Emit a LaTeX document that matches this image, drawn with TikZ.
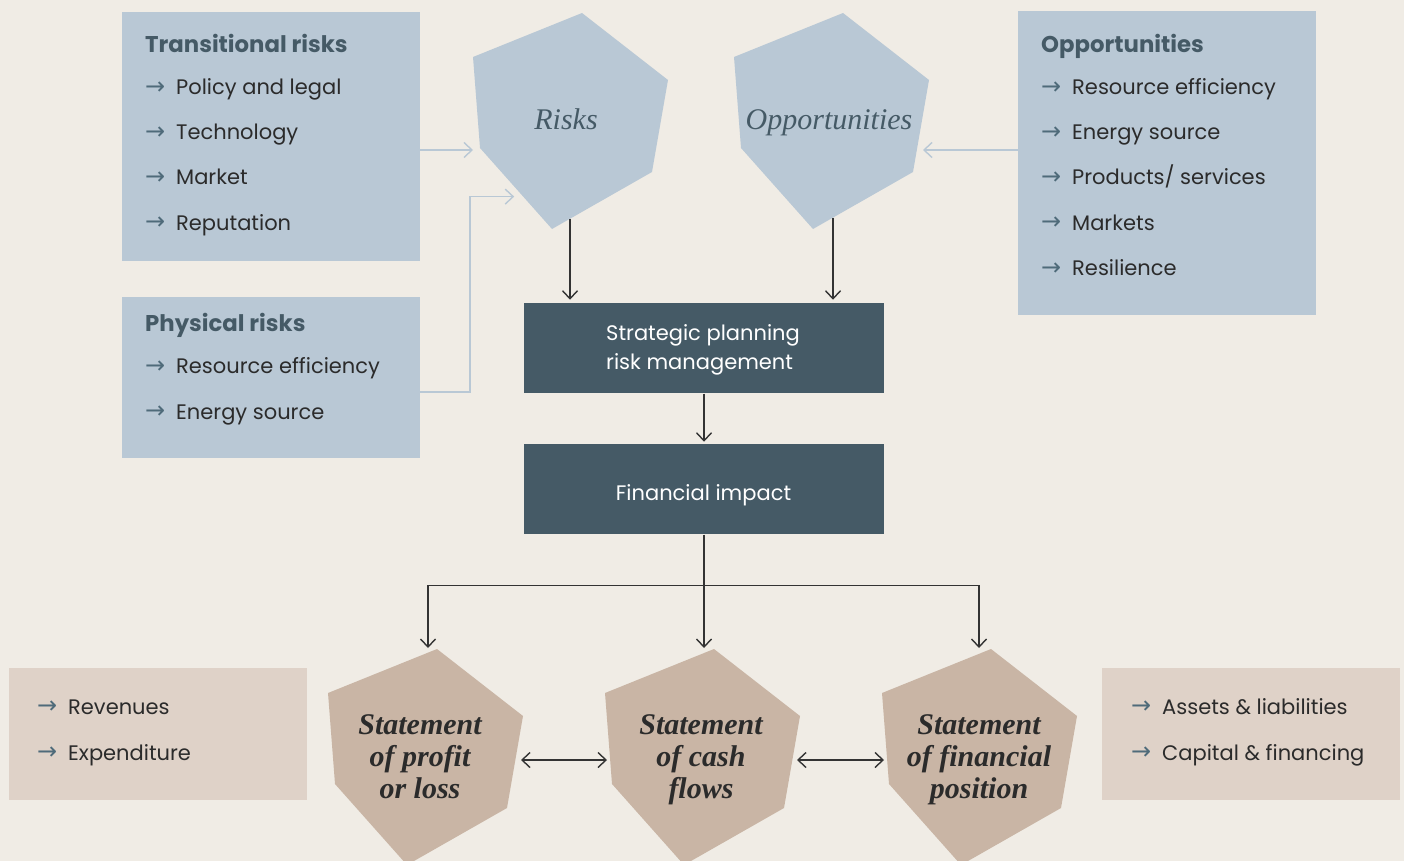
\documentclass[tikz,border=0pt]{standalone}
\usepackage{fontspec}
\setmainfont{Poppins}
\newfontfamily\serifit{Liberation Serif}
\newfontfamily\symf{DejaVu Sans}
\usetikzlibrary{arrows.meta,calc}
\definecolor{bg}{HTML}{F0ECE5}
\definecolor{blueb}{HTML}{B9C8D5}
\definecolor{darkb}{HTML}{455A66}
\definecolor{tanh}{HTML}{C9B5A5}
\definecolor{tanb}{HTML}{DFD2C8}
\definecolor{itemc}{HTML}{2B2B2B}
\definecolor{bulc}{HTML}{4F6B7A}
\definecolor{connc}{HTML}{333333}
\newcommand\bul{\makebox[31pt][l]{\symf\fontsize{24}{24}\selectfont\raisebox{0.5pt}{\textcolor{bulc}{→}}}}
\newcommand\hexshape[4]{%
  \coordinate (#1-t) at (#2,#3);
  \coordinate (#1-r) at ($(#1-t)+(86,67)$);
  \coordinate (#1-lr) at ($(#1-t)+(70,159)$);
  \coordinate (#1-b) at ($(#1-t)+(-30,216)$);
  \coordinate (#1-ll) at ($(#1-t)+(-102,135)$);
  \coordinate (#1-ul) at ($(#1-t)+(-109,44)$);
  \fill[#4] (#1-t) -- (#1-r) -- (#1-lr) -- (#1-b) -- (#1-ll) -- (#1-ul) -- cycle;}
\tikzset{
  bluebox/.style={fill=blueb, anchor=north west, inner sep=0pt, minimum width=298pt},
  tanbox/.style={fill=tanb, anchor=north west, inner sep=0pt, minimum width=298pt, minimum height=132pt},
  darkbox/.style={fill=darkb, inner sep=0pt, minimum width=360pt, minimum height=90.5pt},
  darktext/.style={inner sep=0pt, text=white, font=\fontsize{21}{29}\selectfont, align=left},
  boxtitle/.style={anchor=base west, inner sep=0pt, text=darkb, font=\fontsize{22.8}{26}\selectfont\bfseries},
  item/.style={anchor=base west, inner sep=0pt, text=itemc, font=\fontsize{21}{25}\selectfont},
  hexlabel/.style={anchor=base, inner sep=0pt, text=darkb, font=\serifit\itshape\fontsize{30}{32}\selectfont},
  stmt/.style={anchor=base, inner sep=0pt, text=itemc, align=center, font=\serifit\bfseries\itshape\fontsize{30}{32}\selectfont},
  conn/.style={draw=connc, line width=1.4pt, -{Straight Barb[length=8pt,width=15pt]}},
  dconn/.style={draw=connc, line width=1.4pt, {Straight Barb[length=8pt,width=15pt]}-{Straight Barb[length=8pt,width=15pt]}},
  lconn/.style={draw=blueb, line width=1.4pt, -{Straight Barb[length=8pt,width=15pt]}},
}
\begin{document}
\begin{tikzpicture}[x=1pt,y=-1pt]
\useasboundingbox (0,0) rectangle (1404,861);
\clip (0,0) rectangle (1404,861);
\fill[bg] (0,0) rectangle (1404,861);

% left blue boxes
\node[bluebox, minimum height=249pt] (trans) at (122,12) {};
\node[boxtitle] (transT) at (145,52.5) {Transitional risks};
\node[item] (t1) at (145,95) {\bul Policy and legal};
\node[item] (t2) at (145,140) {\bul Technology};
\node[item] (t3) at (145,185) {\bul Market};
\node[item] (t4) at (145,230) {\bul Reputation};

\node[bluebox, minimum height=161pt] (phys) at (122,297) {};
\node[boxtitle] (physT) at (145,331) {Physical risks};
\node[item] (p1) at (145,373.5) {\bul Resource efficiency};
\node[item] (p2) at (145,419) {\bul Energy source};

% right blue box
\node[bluebox, minimum height=304pt] (opps) at (1018,11) {};
\node[boxtitle] (oppsT) at (1041,52.5) {Opportunities};
\node[item] (o1) at (1041,95) {\bul Resource efficiency};
\node[item] (o2) at (1041,140) {\bul Energy source};
\node[item] (o3) at (1041,185) {\bul Products/ services};
\node[item] (o4) at (1041,230) {\bul Markets};
\node[item] (o5) at (1041,275.5) {\bul Resilience};

% hexagons top
\hexshape{risks}{582}{13}{blueb}
\hexshape{opph}{843}{13}{blueb}
\node[hexlabel] (risksL) at (566,129.5) {Risks};
\node[hexlabel] (opphL) at (829,129.5) {Opportunities};

% dark boxes
\node[darkbox] (strat) at (704,348.2) {};
\node[darktext, anchor=base west] (stratT) at (606,369) {Strategic planning\\risk management};
\node[darkbox] (fin) at (704,489.2) {};
\node[darktext, anchor=base] (finT) at (703.5,500) {Financial impact};

% bottom tan boxes
\node[tanbox] (rev) at (9,668) {};
\node[item] (r1) at (37,714) {\bul Revenues};
\node[item] (r2) at (37,760) {\bul Expenditure};
\node[tanbox] (assets) at (1102,668) {};
\node[item] (a1) at (1131,714) {\bul Assets \& liabilities};
\node[item] (a2) at (1131,760) {\bul Capital \& financing};

% bottom hexagons
\hexshape{prof}{437}{649}{tanh}
\hexshape{cash}{714}{649}{tanh}
\hexshape{fpos}{991}{649}{tanh}
\node[stmt] (profL) at (420,798) {Statement\\of profit\\or loss};
\node[stmt] (cashL) at (701,798) {Statement\\of cash\\flows};
\node[stmt] (fposL) at (979,798) {Statement\\of financial\\position};

% light connectors
\coordinate (tOut) at ($(trans.north east)+(0,138)$);
\coordinate (pOut) at ($(phys.north east)+(0,95)$);
\coordinate (oOut) at ($(opps.north west)+(0,139)$);
\draw[lconn] (tOut) -- (tOut -| risks-ul);
\draw[lconn] (pOut) -- ++(49.5,0) |- ($(risks-ll)!0.6!(risks-b)+(-9,0)$);
\draw[lconn] (oOut) -- ($(oOut -| opph-lr)+(10,0)$);

% dark connectors
\coordinate (rDown) at ($(risks-b)!0.18!(risks-lr)$);
\coordinate (oDown) at ($(opph-b)!0.2!(opph-lr)$);
\draw[conn, shorten >=3pt] (rDown) -- (rDown |- strat.north);
\draw[conn, shorten >=3pt] (oDown) -- (oDown |- strat.north);
\draw[conn, shorten >=2pt] (strat.south) -- (fin.north);
\coordinate (split) at ($(fin.south)+(0,51)$);
\coordinate (profIn) at ($(prof-t)+(-9,-1)$);
\coordinate (cashIn) at ($(cash-t)+(-10,-1)$);
\coordinate (fposIn) at ($(fpos-t)+(-12,-1)$);
\draw[connc, line width=1.4pt] (fin.south) -- (split);
\draw[conn] (split) -| (profIn);
\draw[conn] (split) -- (cashIn);
\draw[conn] (split) -| (fposIn);
\coordinate (pc1) at (521,760);
\coordinate (pc2) at (607,760);
\coordinate (cf1) at (797,760);
\coordinate (cf2) at (884,760);
\draw[dconn] (pc1) -- (pc2);
\draw[dconn] (cf1) -- (cf2);
\end{tikzpicture}
\end{document}
